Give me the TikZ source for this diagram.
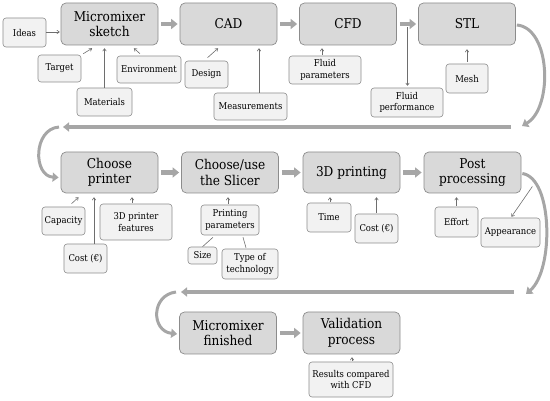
\documentclass[tikz,border=0pt]{standalone}
\usepackage{fontspec}
\setmainfont{DejaVu Serif Condensed}
\usetikzlibrary{arrows.meta,calc}
\definecolor{mainfill}{HTML}{D9D9D9}
\definecolor{smallfill}{HTML}{F2F2F2}
\definecolor{boxline}{HTML}{8C8C8C}
\definecolor{blockarr}{HTML}{A6A6A6}
\definecolor{blockedge}{HTML}{8A8A8A}
\definecolor{thinarr}{HTML}{6E6E6E}
\tikzset{
  mainbox/.style={draw=boxline, fill=mainfill, rounded corners=5pt, line width=0.7pt,
    minimum width=97pt, minimum height=42pt, align=center, inner sep=1pt,
    font=\fontsize{13.5}{15.5}\selectfont},
  smallbox/.style={draw=boxline, fill=smallfill, rounded corners=3pt, line width=0.6pt,
    align=center, inner sep=1pt, font=\fontsize{9.4}{11.5}\selectfont},
  blockarrow/.style={draw=blockarr, line width=4.5pt, -{Triangle[width=10pt,length=6.5pt]},
    shorten <=3pt, shorten >=2pt},
  bigbar/.style={draw=blockarr, line width=4pt, -{Triangle[width=9pt,length=6pt]}},
  curvearrow/.style={draw=blockarr, line width=3pt, -{Triangle[width=9pt,length=6pt]}},
  thinarrow/.style={draw=thinarr, line width=0.6pt, -{To[length=3pt,width=4pt]}},
  thinline/.style={draw=thinarr, line width=0.6pt}
}
\begin{document}
\begin{tikzpicture}[x=1pt,y=-1pt]
\useasboundingbox (0,0) rectangle (550,401);
% main boxes
\node[mainbox] (ms) at (109.5,24) {Micromixer\\sketch};
\node[mainbox] (cad) at (228.5,24) {CAD};
\node[mainbox] (cfd) at (348,24) {CFD};
\node[mainbox] (stl) at (467,24) {STL};
\node[mainbox, minimum height=41pt] (cp) at (109.5,172.5) {Choose\\printer};
\node[mainbox, minimum height=41pt] (slicer) at (230,172.5) {Choose/use\\the Slicer};
\node[mainbox, minimum height=41pt] (print) at (351.5,172.5) {3D printing};
\node[mainbox, minimum height=41pt] (post) at (472.5,172.5) {Post\\processing};
\node[mainbox] (fin) at (228,333) {Micromixer\\finished};
\node[mainbox] (val) at (351.5,333) {Validation\\process};
% small boxes
\node[smallbox, minimum width=43pt, minimum height=29pt] (ideas) at (24.5,32.5) {Ideas};
\node[smallbox, minimum width=43pt, minimum height=27pt] (target) at (59.5,68.5) {Target};
\node[smallbox, minimum width=55pt, minimum height=28pt] (materials) at (104.5,102) {Materials};
\node[smallbox, minimum width=64pt, minimum height=27pt] (env) at (149,69.5) {Environment};
\node[smallbox, minimum width=43pt, minimum height=27pt] (design) at (206.5,74.5) {Design};
\node[smallbox, minimum width=73pt, minimum height=27pt] (meas) at (250.5,106.5) {Measurements};
\node[smallbox, minimum width=72pt, minimum height=28pt] (fparam) at (325,70) {Fluid\\parameters};
\node[smallbox, minimum width=72pt, minimum height=29pt] (fperf) at (407,102.5) {Fluid\\performance};
\node[smallbox, minimum width=42pt, minimum height=29pt] (mesh) at (467,78.5) {Mesh};
\node[smallbox, minimum width=43pt, minimum height=28pt] (capacity) at (63.5,221) {Capacity};
\node[smallbox, minimum width=43pt, minimum height=29pt] (cost1) at (85.5,258.5) {Cost (€)};
\node[smallbox, minimum width=72pt, minimum height=36pt] (features) at (136,222) {3D printer\\features};
\node[smallbox, minimum width=58pt, minimum height=30pt] (pparam) at (230,220) {Printing\\parameters};
\node[smallbox, minimum width=29pt, minimum height=17pt] (size) at (202.5,255.5) {Size};
\node[smallbox, minimum width=56pt, minimum height=30pt] (tech) at (250,264) {Type of\\technology};
\node[smallbox, minimum width=44pt, minimum height=29pt] (time) at (329,217.5) {Time};
\node[smallbox, minimum width=43pt, minimum height=29pt] (cost2) at (376.5,228.5) {Cost (€)};
\node[smallbox, minimum width=43pt, minimum height=30pt] (effort) at (456.5,222) {Effort};
\node[smallbox, minimum width=59pt, minimum height=29pt] (appear) at (510.5,232.5) {Appearance};
\node[smallbox, minimum width=84pt, minimum height=35pt] (results) at (351,379.5) {Results compared\\with CFD};
% block arrows
\draw[blockarrow] (ms.east) -- (cad.west);
\draw[blockarrow] (cad.east) -- (cfd.west);
\draw[blockarrow] (cfd.east) -- (stl.west);
\draw[blockarrow] (cp.east) -- (slicer.west);
\draw[blockarrow] (slicer.east) -- (print.west);
\draw[blockarrow] (print.east) -- (post.west);
\draw[blockarrow] (fin.east) -- (val.west);
\coordinate (ca) at ($(cfd.east)!0.5!(stl.west)$);
% return bars
\coordinate (b1r) at (511,127);
\coordinate (b1l) at (63,127);
\coordinate (b2r) at (514,292);
\coordinate (b2l) at (181,292);
\draw[bigbar] (b1r) -- (b1l);
\draw[bigbar] (b2r) -- (b2l);
\draw[curvearrow] ($(stl.east)+(1,1)$) .. controls (551,28) and (553,108) .. ($(b1r)+(11,-1)$);
\draw[curvearrow] ($(b1l)+(-4,0)$) .. controls (33,129) and (33,176) .. ($(cp.west)+(-2,5)$);
\draw[curvearrow] ($(post.east)+(1,1)$) .. controls (553,178) and (554,270) .. ($(b2r)+(12,2)$);
\draw[curvearrow] ($(b2l)+(-5,0)$) .. controls (151,295) and (151,331) .. ($(fin.west)+(-2,1)$);
% thin arrows
\draw[thinarrow] (ideas.east |- 0,32) -- ($(ms.west |- 0,32)+(-1,0)$);
\draw[thinarrow] ($(target.north east)+(2,-1)$) -- ($(ms.south)+(-17.5,3)$);
\draw[thinarrow] (materials.north) -- ($(materials.north |- ms.south)+(0,3)$);
\draw[thinarrow] ($(env.north)+(-9,-2)$) -- ($(ms.south)+(24.5,3)$);
\draw[thinarrow] ($(design.north)+(1,-3)$) -- ($(cad.south)+(-10.5,3)$);
\draw[thinarrow] ($(meas.north)+(8.5,0)$) -- ($(cad.south)+(30.5,3)$);
\draw[thinarrow] ($(fparam.north)+(-3,-1)$) -- ($(cfd.south)+(-26,3)$);
\draw[thinarrow] ($(ca)+(0,3)$) -- ($(ca |- fperf.north)+(0,-2)$);
\draw[thinarrow] ($(mesh.north)+(0,-2)$) -- ($(stl.south)+(0,4)$);
\draw[thinarrow] ($(capacity.north)+(8,-3)$) -- ($(cp.south)+(-31,4)$);
\draw[thinarrow] ($(cost1.north)+(8.5,0)$) -- ($(cp.south)+(-15.5,4)$);
\draw[thinarrow] ($(features.north)+(-4,-1)$) -- ($(cp.south)+(22.5,4)$);
\draw[thinarrow] ($(pparam.north)+(-2,-1)$) -- ($(slicer.south)+(-2,4)$);
\draw[thinline] (size.north) -- ($(pparam.south)+(-17,2)$);
\draw[thinline] ($(tech.north)+(-4,-1)$) -- ($(pparam.south)+(13,2)$);
\draw[thinarrow] ($(time.north)+(1,-1)$) -- ($(print.south)+(-21.5,4)$);
\draw[thinarrow] ($(cost2.north)+(0,-1)$) -- ($(print.south)+(25,4)$);
\draw[thinarrow] ($(effort.north)+(0,-1)$) -- ($(post.south)+(-16,4)$);
\draw[thinarrow] ($(post.east)+(11,14)$) -- ($(appear.north)+(1,-1)$);
\draw[thinarrow] ($(results.north)+(1,-1)$) -- ($(val.south)+(0.5,3)$);
\end{tikzpicture}
\end{document}
